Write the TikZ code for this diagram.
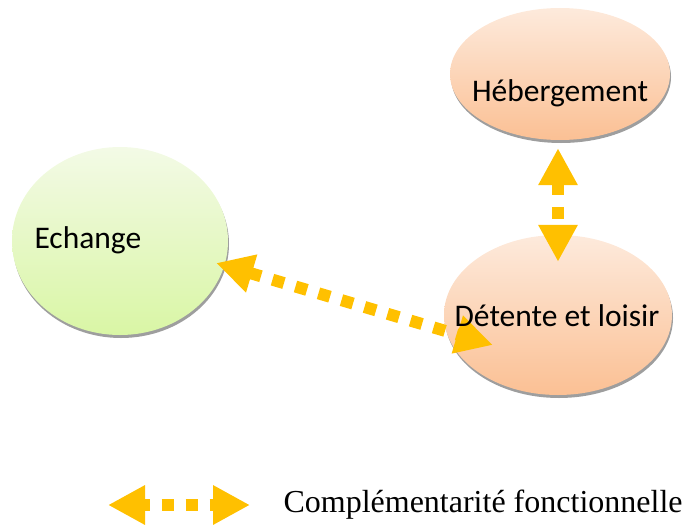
\documentclass[tikz,border=0pt]{standalone}
\usepackage{fontspec}
\setmainfont{Liberation Serif}
\newfontfamily\carlito{Carlito}
\usetikzlibrary{shapes.geometric,arrows.meta,shadows,calc}
\definecolor{fleche}{RGB}{255,192,0}
\definecolor{orangeclair}{RGB}{253,234,220}
\definecolor{orangefonce}{RGB}{251,192,148}
\definecolor{vertclair}{RGB}{243,250,230}
\definecolor{vertfonce}{RGB}{217,246,165}

\begin{document}
\begin{tikzpicture}[x=1pt, y=-1pt,
	bulle/.style={ellipse, inner sep=0pt, general shadow={fill=black!38, shadow xshift=1pt, shadow yshift=-3pt}},
	orangebulle/.style={bulle, top color=orangeclair, bottom color=orangefonce},
	vertbulle/.style={bulle, top color=vertclair, bottom color=vertfonce},
	texte/.style={font=\carlito\fontsize{31.5}{37}\selectfont},
	lien/.style={fleche, line width=12pt, dash pattern=on 12pt off 12pt,
		{Triangle[length=37pt,width=37pt]}-{Triangle[length=37pt,width=37pt]}}]

	\useasboundingbox (0,0) rectangle (684,527);

	% les trois bulles
	\node[orangebulle, minimum width=220pt, minimum height=132pt] (heb) at (560,74) {};
	\node[vertbulle, minimum width=216pt, minimum height=188pt] (ech) at (120,241) {};
	\node[orangebulle, minimum width=228pt, minimum height=160pt] (det) at (558,315) {};

	% liens
	\coordinate (a1) at ($(heb.south)+(-2,8)$);
	\coordinate (a2) at ($(det.north)+(0,27)$);
	\coordinate (b1) at ($(ech.east)+(-12,22)$);
	\coordinate (b2) at ($(det.west)+(49,30)$);
	\draw[lien] (a1) -- (a2);
	\draw[lien] (b1) -- (b2);

	\node[texte] (hebtxt) at (560,93) {Hébergement};
	\node[texte, anchor=west] (echtxt) at (31,240) {Echange};
	\node[texte] (dettxt) at (557,316) {Détente et loisir};

	% legende
	\coordinate (l1) at (108,505);
	\coordinate (l2) at (250,505);
	\draw[lien, dash phase=5pt] (l1) -- (l2);
	\node[anchor=west, font=\fontsize{32}{38}\selectfont] (legende) at (280,505) {Complémentarité fonctionnelle};
\end{tikzpicture}
\end{document}
